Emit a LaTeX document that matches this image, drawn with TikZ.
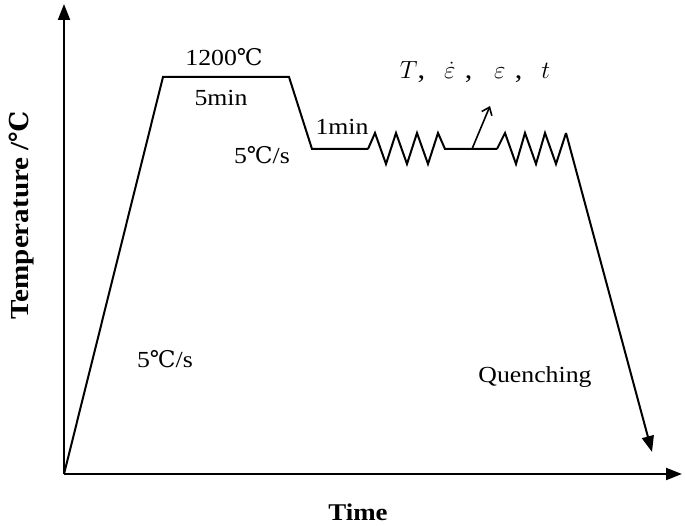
\documentclass[tikz,border=0pt]{standalone}
\usepackage{fontspec}
\setmainfont[FakeStretch=1.12]{Liberation Serif}
\newfontfamily\degfont{DejaVu Serif}
\usetikzlibrary{arrows.meta}
\newcommand{\degc}{{\degfont ℃}}

\begin{document}
\begin{tikzpicture}[x=1pt, y=-1pt, line width=2pt, font=\fontsize{23}{27}\selectfont,
        axis/.style = {-{Triangle[length=16pt,width=12pt]}},
        path/.style = {line join=miter, miter limit=4},
        lbl/.style = {inner sep=0pt}]
        \useasboundingbox (0,0) rectangle (685,526);
        % axes
        \coordinate (o) at (64,474);
        \coordinate (y_end) at (64,4);
        \coordinate (x_end) at (682,474);
        \draw[axis] (o) -- (y_end);
        \draw[axis] (o) -- (x_end);
        \node[lbl, font=\fontsize{24}{28}\selectfont\bfseries] (x_lbl) at (358,512) {Time};
        \node[lbl, font=\fontsize{26}{30}\selectfont\bfseries, rotate=90] (y_lbl) at (22,215) {Temperature /\degc};
        
        % heating and holding
        \coordinate (p_1) at (163,77);
        \coordinate (p_2) at (289,77);
        \coordinate (p_3) at (312,149);
        \coordinate (p_4) at (368,149);
        \draw[path] (o) -- (p_1) -- (p_2) -- (p_3) -- (p_4);
        
        % first deformation
        \coordinate (p_5) at (445,149);
        \coordinate (p_6) at (497,149);
        \draw[path] (p_4) -- (375,133) -- (386,164) -- (396,133) -- (407,164) -- (417,133)
              -- (428,164) -- (438,133) -- (p_5) -- (p_6);
        
        % second deformation and quenching
        \coordinate (p_7) at (566,133);
        \coordinate (p_8) at (652,452);
        \draw[path] (p_6) -- (505,133) -- (516,164) -- (525,133) -- (536,164) -- (545,133)
              -- (556,164) -- (p_7);
        \draw[axis] (p_7) -- (p_8);
        
        % parameter arrow
        \coordinate (a_1) at (472,149);
        \coordinate (a_2) at (490,106);
        \draw[line width=1.6pt, -{Straight Barb[length=7pt,width=11pt]}] (a_1) -- (a_2);
        
        % labels
        \node[lbl] (t_hold) at (224,57) {1200\degc};
        \node[lbl] (t_5min) at (221,98) {5min};
        \node[lbl] (t_1min) at (342,127) {1min};
        \node[lbl] (r_cool) at (262,155) {5\degc/s};
        \node[lbl] (r_heat) at (165,359) {5\degc/s};
        \node[lbl] (q) at (535,377) {Quenching};
        \node[lbl, font=\fontsize{27}{31}\selectfont] (params) at (475,72) {$T$,\hspace{0.7em}$\dot{\varepsilon}$\hspace{0.35em},\hspace{0.8em}$\varepsilon$\hspace{0.35em},\hspace{0.7em}$t$};
\end{tikzpicture}
\end{document}
